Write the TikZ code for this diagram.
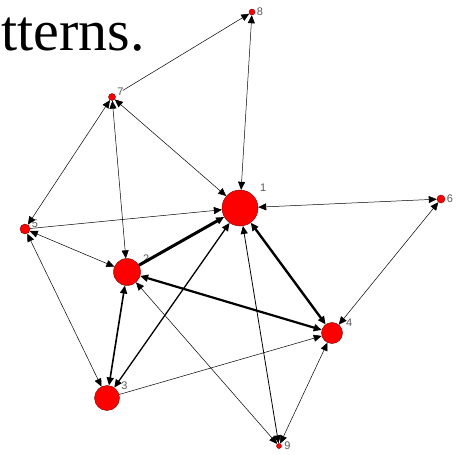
\documentclass[tikz,border=0pt]{standalone}
\usepackage{fontspec}
\setmainfont{Liberation Serif}
\newfontfamily\lblfont{Liberation Sans}
\usetikzlibrary{arrows.meta}
\tikzset{
  actor/.style={circle, draw=red!45!black, fill=red, inner sep=0pt, minimum size=#1},
  lbl/.style={font=\lblfont\fontsize{11}{11}\selectfont, text=black!65, inner sep=0.5pt},
  tie/.style={line width=#1, -{Triangle[length=8pt,width=7pt]}},
  tie/.default=0.5pt,
  bitie/.style={line width=#1, {Triangle[length=8pt,width=7pt]}-{Triangle[length=8pt,width=7pt]}},
  bitie/.default=0.5pt,
}

\begin{document}
\begin{tikzpicture}[x=1pt,y=-1pt]
  \useasboundingbox (0,0) rectangle (456,455);
  \node[anchor=base west, font=\fontsize{58}{58}\selectfont, inner sep=0pt] (title) at (1,50) {tterns.};
  % actors
  \node[actor=36pt, label={[lbl, label distance=7pt]40:1}] (n1) at (240,208) {};
  \node[actor=27pt, label={[lbl, label distance=4pt]30:2}] (n2) at (127,272) {};
  \node[actor=25pt, label={[lbl, label distance=3pt]30:3}] (n3) at (107,398) {};
  \node[actor=21pt, label={[lbl, label distance=4pt]25:4}] (n4) at (332,333) {};
  \node[actor=10pt, label={[lbl, label distance=1pt]10:5}] (n5) at (25,229) {};
  \node[actor=8pt, label={[lbl, label distance=1pt]0:6}] (n6) at (441,199) {};
  \node[actor=7pt, label={[lbl, label distance=1pt]10:7}] (n7) at (112,97) {};
  \node[actor=6pt, label={[lbl, label distance=1pt]0:8}] (n8) at (252,12) {};
  \node[actor=5pt, label={[lbl, label distance=2pt]0:9}] (n9) at (279,446) {};
  % ties
  \draw[tie, shorten <=9pt] (n7) -- (n8);
  \draw[bitie] (n8) -- (n1);
  \draw[bitie] (n7) -- (n5);
  \draw[bitie] (n7) -- (n2);
  \draw[bitie] (n7) -- (n1);
  \draw[tie] (n5) -- (n1);
  \draw[bitie] (n5) -- (n2);
  \draw[bitie] (n5) -- (n3);
  \draw[tie=3pt] (n2) -- (n1);
  \draw[bitie=2.2pt] (n2) -- (n4);
  \draw[bitie=1.6pt] (n2) -- (n3);
  \draw[bitie=1.3pt] (n3) -- (n1);
  \draw[tie] (n3) -- (n4);
  \draw[bitie] (n1) -- (n6);
  \draw[bitie] (n6) -- (n4);
  \draw[bitie=2.4pt] (n1) -- (n4);
  \draw[bitie=0.8pt] (n9) -- (n1);
  \draw[bitie] (n9) -- (n4);
  \draw[bitie] (n9) -- (n2);
\end{tikzpicture}
\end{document}
